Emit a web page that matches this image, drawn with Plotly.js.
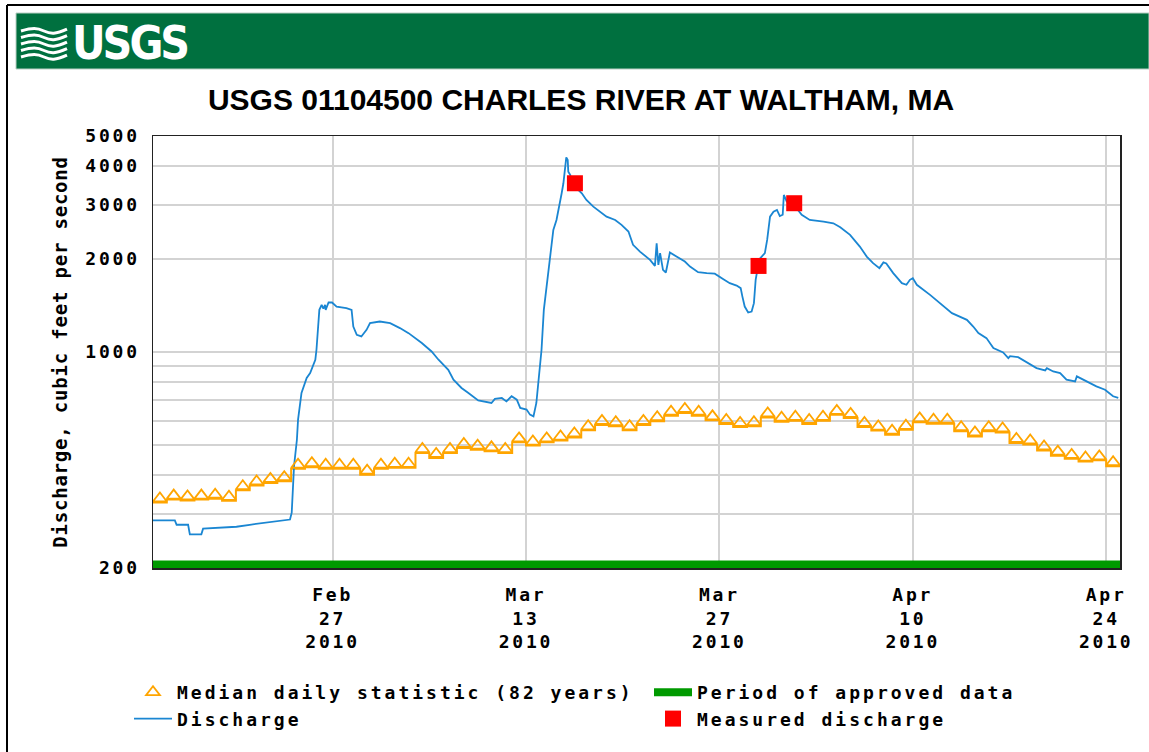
<!DOCTYPE html>
<html><head><meta charset="utf-8">
<script src="https://cdn.plot.ly/plotly-3.0.1.min.js"></script>
<style>
html,body{margin:0;padding:0;background:#fff;}
#chart{width:1149px;height:752px;}
.xtick text,.ytick text{letter-spacing:2.8px;}
.legendtext,.legend2text{letter-spacing:3.0px;}
.ytitle{letter-spacing:0.8px;}
.annotation-text{letter-spacing:-3px;}
</style></head><body><div id="chart"></div>
<script>
// ---------------- data ----------------
const chartTitle = 'USGS 01104500 CHARLES RIVER AT WALTHAM, MA';
const yAxisTitle = 'Discharge, cubic feet per second';

const medianFirstDay = '2010-02-14';
const medianValues = [326,333,331,333,335,330,357,370,377,382,
  419,424,419,419,419,401,419,422,422,471,
  454,471,489,483,477,471,510,498,510,517,
  529,558,581,575,558,581,597,622,635,622,
  601,585,572,575,614,595,599,585,599,626,
  612,572,557,540,560,592,586,586,554,533,
  554,549,508,502,480,462,451,442,446,427];

const dischargeTimes = [
 '2010-02-14 00:00','2010-02-15 14:00','2010-02-15 17:00','2010-02-16 13:00','2010-02-16 16:00',
 '2010-02-17 12:00','2010-02-17 15:00','2010-02-20 01:00','2010-02-21 00:00','2010-02-22 00:00',
 '2010-02-22 23:00','2010-02-23 22:00','2010-02-24 01:00','2010-02-24 03:00','2010-02-24 05:00',
 '2010-02-24 10:00','2010-02-24 12:00','2010-02-24 18:00','2010-02-24 22:00','2010-02-25 03:00',
 '2010-02-25 09:00','2010-02-25 14:00','2010-02-25 18:00','2010-02-25 20:00','2010-02-25 23:00',
 '2010-02-26 01:00','2010-02-26 05:00','2010-02-26 08:00','2010-02-26 11:00','2010-02-26 12:00',
 '2010-02-26 17:00','2010-02-26 23:00','2010-02-27 07:00','2010-02-28 00:00','2010-02-28 09:00',
 '2010-02-28 12:00','2010-02-28 18:00','2010-03-01 02:00','2010-03-01 11:00','2010-03-01 17:00',
 '2010-03-02 10:00','2010-03-03 04:00','2010-03-03 21:00','2010-03-04 12:00','2010-03-05 11:00',
 '2010-03-06 04:00','2010-03-06 16:00','2010-03-07 09:00','2010-03-07 18:00','2010-03-08 08:00',
 '2010-03-08 20:00','2010-03-09 13:00','2010-03-10 12:00','2010-03-10 18:00','2010-03-11 06:00',
 '2010-03-11 14:00','2010-03-11 23:00','2010-03-12 08:00','2010-03-12 14:00','2010-03-13 01:00',
 '2010-03-13 07:00','2010-03-13 13:00','2010-03-13 18:00','2010-03-13 23:00','2010-03-14 03:00',
 '2010-03-14 07:00','2010-03-14 12:00','2010-03-14 16:00','2010-03-14 19:00','2010-03-14 23:30',
 '2010-03-15 05:00','2010-03-15 10:00','2010-03-15 14:00','2010-03-15 17:00','2010-03-15 20:00',
 '2010-03-15 22:00','2010-03-16 00:30','2010-03-16 01:30','2010-03-16 05:00','2010-03-16 07:00',
 '2010-03-17 01:00','2010-03-17 09:00','2010-03-17 21:00','2010-03-18 09:00','2010-03-18 20:00',
 '2010-03-19 11:00','2010-03-19 22:00','2010-03-20 10:00','2010-03-20 18:00','2010-03-21 06:00',
 '2010-03-21 23:30','2010-03-22 08:00','2010-03-22 11:00','2010-03-22 14:00','2010-03-22 17:00',
 '2010-03-22 22:00','2010-03-23 03:00','2010-03-23 10:00','2010-03-23 22:00','2010-03-24 12:00',
 '2010-03-24 21:00','2010-03-25 11:00','2010-03-26 02:00','2010-03-26 16:00','2010-03-27 07:00',
 '2010-03-27 18:00','2010-03-28 06:00','2010-03-28 13:00','2010-03-28 16:00','2010-03-28 20:00',
 '2010-03-29 02:00','2010-03-29 08:00','2010-03-29 12:00','2010-03-29 15:00','2010-03-29 18:00',
 '2010-03-29 23:00','2010-03-30 07:00','2010-03-30 11:00','2010-03-30 16:00','2010-03-30 22:00',
 '2010-03-31 04:00','2010-03-31 09:00','2010-03-31 14:00','2010-03-31 16:00','2010-03-31 21:00',
 '2010-04-01 09:00','2010-04-01 23:00','2010-04-02 13:00','2010-04-03 13:00','2010-04-04 06:00',
 '2010-04-04 18:00','2010-04-05 11:00','2010-04-06 04:00','2010-04-06 16:00','2010-04-07 03:00',
 '2010-04-07 14:00','2010-04-07 21:00','2010-04-08 02:00','2010-04-08 14:00','2010-04-09 05:00',
 '2010-04-09 13:00','2010-04-09 19:00','2010-04-10 00:00','2010-04-10 07:00','2010-04-11 06:00',
 '2010-04-12 02:00','2010-04-12 20:00','2010-04-13 22:00','2010-04-14 09:00','2010-04-14 18:00',
 '2010-04-15 08:00','2010-04-15 20:00','2010-04-16 13:00','2010-04-16 22:00','2010-04-17 01:00',
 '2010-04-17 15:00','2010-04-18 06:00','2010-04-18 23:00','2010-04-19 14:00','2010-04-19 17:00',
 '2010-04-20 04:00','2010-04-20 16:00','2010-04-21 03:00','2010-04-21 18:00','2010-04-21 21:00',
 '2010-04-22 14:00','2010-04-23 07:00','2010-04-23 22:00','2010-04-24 12:00','2010-04-24 21:00'];
const dischargeValues = [
 285,285,276,276,257, 257,268,272,276,280, 283,287,302,367,427,
 520,604,737,774,824, 855,898,944,1017,1180, 1369,1421,1382,1421,1369,
 1446,1446,1403,1387,1369, 1209,1137,1123,1180,1240, 1255,1240,1195,1151,1069,
 1004,944,876,814,765, 737,697,684,705,710, 692,719,701,659,651,
 627,619,684,855,1017, 1369,1629,1844,2140,2483, 2675,2954,3263,3516,3882,
 4266,4182,3833,3740,3516, 3263,3105,2954,2846,2742, 2675,2578,2453,2222,2113,
 1987,1899,2249,1914,2088, 1844,1808,2098,2036,1962, 1890,1813,1800,1792,1721,
 1670,1640,1609,1511,1403, 1342,1352,1439,1712,1844, 2012,2088,2305,2742,2846,
 2882,2753,2780,3222,3065, 3000,2780,2675,2642,2610, 2534,2393,2194,2036,1938,
 1868,1950,1935,1800,1670, 1650,1712,1734,1650,1531, 1421,1336,1271,1209,1151,
 1109,1030,997,956,970, 962,925,887,872,887, 865,855,814,803,834,
 803,774,755,719,710];

const measuredTimes = ['2010-03-16 13:00','2010-03-29 20:00','2010-04-01 10:00'];
const measuredValues = [3516,1899,3030];

const approvedPeriod = ['2010-02-14','2010-04-25'];
const approvedLevel = [200,200];

const xRange = ['2010-02-14','2010-04-25'];
const xTickDates = ['2010-02-27','2010-03-13','2010-03-27','2010-04-10','2010-04-24'];
const xTickLabels = ['Feb<br>27<br>2010','Mar<br>13<br>2010','Mar<br>27<br>2010','Apr<br>10<br>2010','Apr<br>24<br>2010'];
const yRange = [200,5000];
const yTickValues = [200,300,400,500,600,700,800,900,1000,2000,3000,4000,5000];
const yTickLabels = ['200','','','','','','','','1000','2000','3000','4000','5000'];

const legendNames = ['Median daily statistic (82 years)','Period of approved data','Discharge','Measured discharge'];

// ---------------- helpers ----------------
function dayString(start, i){
  const p = start.split('-').map(Number);
  return new Date(Date.UTC(p[0], p[1]-1, p[2]+i)).toISOString().slice(0,10);
}
const medianDays = medianValues.map((v,i)=>dayString(medianFirstDay,i));
const medianNoon = medianDays.map(d=>d+' 12:00');
const stepX = medianDays.concat([dayString(medianFirstDay, medianValues.length)]);
const stepY = medianValues.concat([medianValues[medianValues.length-1]]);

// geometry of the plot area in pixels
const W=1149, H=752, ML=153, MR=29, MT=136, MB=184;
const PW=W-ML-MR, PH=H-MT-MB;
const px=x=>(x-ML)/PW, py=y=>(MT+PH-y)/PH;
const lg=Math.log10;
const yLog=[lg(yRange[0]),lg(yRange[1])];
const pxPerDec = PH/(yLog[1]-yLog[0]);
const shift = p => [yLog[0]-p/pxPerDec, yLog[1]-p/pxPerDec];

const ORANGE='#ffa500', BLUE='#1a86d2', GREEN='#009a00', RED='#ff0000';
const monoFont = 'DejaVu Sans Mono, Liberation Mono, monospace';
const legendFont = {family:monoFont, size:18, weight:'bold', color:'#000'};

const traces = [
  {name:legendNames[1], x:approvedPeriod, y:approvedLevel, yaxis:'y3', mode:'lines',
   line:{color:GREEN,width:8}, legend:'legend2', legendgroup:'b1', hoverinfo:'skip'},
  {name:'median step', x:stepX, y:stepY, mode:'lines', line:{color:ORANGE,width:2,shape:'hv'},
   showlegend:false, hoverinfo:'skip'},
  {name:legendNames[0], x:medianNoon, y:medianValues, yaxis:'y2', mode:'markers',
   marker:{symbol:'triangle-up-open', size:12, color:ORANGE, line:{width:1.8,color:ORANGE}},
   legend:'legend', legendgroup:'a1'},
  {name:legendNames[2], x:dischargeTimes, y:dischargeValues, mode:'lines',
   line:{color:BLUE,width:1.8}, legend:'legend', legendgroup:'a2'},
  {name:legendNames[3], x:measuredTimes, y:measuredValues, mode:'markers',
   marker:{symbol:'square', size:16, color:RED}, legend:'legend2', legendgroup:'b2'}
];

// decorative header: banner, logo, frame
function wave(x0,x1,y,a){
  const xm=(x0+x1)/2;
  return 'M '+px(x0)+','+py(y)+' C '+px(x0+(xm-x0)*0.5)+','+py(y-a)+' '+px(xm-(xm-x0)*0.3)+','+py(y-a)+' '+px(xm)+','+py(y)+
         ' S '+px(x1-(x1-xm)*0.5)+','+py(y+a)+' '+px(x1)+','+py(y-a*0.6);
}
const shapes = [
  {type:'rect', xref:'paper', yref:'paper', x0:px(16), x1:px(1149), y0:py(69), y1:py(13),
   fillcolor:'#00703f', line:{color:'#b9cfc4', width:1}, layer:'below'},
  {type:'line', xref:'paper', yref:'paper', x0:px(7), x1:px(7), y0:py(5), y1:py(752), line:{color:'#000',width:2}},
  {type:'line', xref:'paper', yref:'paper', x0:px(7), x1:px(1149), y0:py(5), y1:py(5), line:{color:'#000',width:2}}
];
for(let k=0;k<5;k++){
  shapes.push({type:'path', xref:'paper', yref:'paper', path:wave(21,67,31+k*6.5,3.2),
    line:{color:'#ffffff',width:3}, fillcolor:'rgba(0,0,0,0)'});
}

const legendBase = {orientation:'v', yanchor:'top', xanchor:'left', traceorder:'normal',
  itemwidth:38, tracegroupgap:3, font:legendFont, bgcolor:'rgba(0,0,0,0)', borderwidth:0};

const layout = {
  width:W, height:H, margin:{l:ML,r:MR,t:MT,b:MB,pad:0},
  paper_bgcolor:'#fff', plot_bgcolor:'#fff', showlegend:true,
  title:{text:chartTitle, x:581/W, xref:'container', xanchor:'center', y:1-99/H, yanchor:'middle',
         font:{family:'Liberation Sans, Arial, sans-serif', size:30, weight:'bold', color:'#000'}},
  xaxis:{type:'date', range:xRange, tickmode:'array', tickvals:xTickDates, ticktext:xTickLabels,
         showgrid:true, gridcolor:'#d3d3d3', gridwidth:2, showline:true, linecolor:'#222', linewidth:1.5,
         mirror:true, ticks:'', tickangle:0, ticklabelstandoff:10,
         tickfont:{family:monoFont, size:18, weight:'bold', color:'#000'}, fixedrange:true},
  yaxis:{type:'log', range:yLog, tickmode:'array', tickvals:yTickValues, ticktext:yTickLabels,
         showgrid:true, gridcolor:'#d3d3d3', gridwidth:2, showline:true, linecolor:'#222', linewidth:1.5,
         mirror:true, ticks:'', zeroline:false, ticklabelstandoff:8,
         tickfont:{family:monoFont, size:18, weight:'bold', color:'#000'},
         title:{text:yAxisTitle, standoff:12, font:{family:monoFont, size:19, weight:'bold', color:'#000'}}},
  yaxis2:{type:'log', overlaying:'y', range:shift(4), visible:false, showgrid:false},
  yaxis3:{type:'log', overlaying:'y', range:shift(3.5), visible:false, showgrid:false},
  legend:Object.assign({}, legendBase, {x:px(129), y:py(674)}),
  legend2:Object.assign({}, legendBase, {x:px(649), y:py(674)}),
  shapes:shapes,
  annotations:[
    {text:'USGS', xref:'paper', yref:'paper', x:px(70), y:py(43), xanchor:'left', yanchor:'middle',
     showarrow:false, font:{family:'Liberation Sans Narrow, DejaVu Sans Condensed, Arial Narrow, sans-serif', size:46, weight:'bold', color:'#fff'}}
  ]
};
Plotly.newPlot('chart', traces, layout, {staticPlot:true, displayModeBar:false});
</script></body></html>
